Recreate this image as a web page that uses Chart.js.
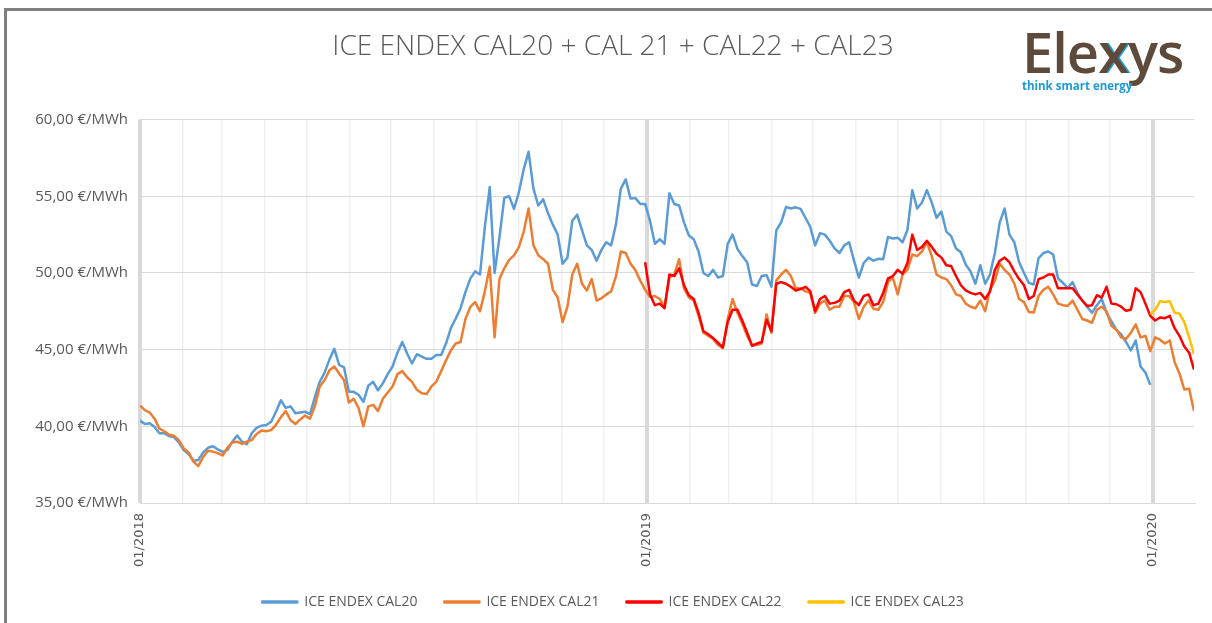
<!DOCTYPE html>
<html>
<head>
<meta charset="utf-8">
<title>ICE ENDEX CAL20 + CAL 21 + CAL22 + CAL23</title>
<script src="https://cdn.jsdelivr.net/npm/chart.js@4.4.1/dist/chart.umd.min.js"></script>
<style>
  html, body { margin: 0; padding: 0; background: #fff; }
  body { width: 1212px; height: 623px; position: relative; overflow: hidden; font-family: "Open Sans", sans-serif; }
  #frame { position: absolute; left: 4px; top: 8px; right: -10px; bottom: -10px; border-left: 3px solid #808080; border-top: 3px solid #808080; }
  #chart { position: absolute; left: 0; top: 0; }
  #logo { position: absolute; left: 1022px; top: 23px; line-height: 1; }
  #logo .name { font-size: 56px; color: #5e4a3a; font-weight: 600; letter-spacing: -1px; }
  #logo .name .x { color: #5e4a3a; text-shadow: 2px 0 0 #1e9ad6; }
  #logo .tag { margin-top: 1px; font-size: 11.5px; font-weight: 700; color: #1e9ad6; }
</style>
</head>
<body>
<div id="frame"></div>
<canvas id="chart" width="1212" height="623"></canvas>
<div id="logo"><div class="name">Ele<span class="x">x</span>ys</div><div class="tag">think smart energy</div></div>
<script>
// one quote every half week, counted in days from 01/01/2018
const dayStep = 3.5;

const seriesNames = ["ICE ENDEX CAL20", "ICE ENDEX CAL21", "ICE ENDEX CAL22", "ICE ENDEX CAL23"];
const seriesColors = ["#5b9bd5", "#ed7d31", "#ff0000", "#ffc000"];

// index of the first quote of each product
const cal20Start = 0;
const cal21Start = 0;
const cal22Start = 104;
const cal23Start = 208;

const cal20 = [
  40.37, 40.15, 40.2, 39.95, 39.55, 39.55, 39.35, 39.3, 38.95, 38.45,
  38.2, 37.75, 37.8, 38.3, 38.6, 38.7, 38.5, 38.33, 38.45, 39.0,
  39.4, 39.0, 38.83, 39.55, 39.9, 40.04, 40.08, 40.3, 40.95, 41.7,
  41.2, 41.3, 40.85, 40.9, 40.95, 40.8, 41.9, 42.9, 43.5, 44.35,
  45.05, 44.0, 43.85, 42.25, 42.25, 42.06, 41.6, 42.65, 42.9, 42.35,
  42.8, 43.4, 43.9, 44.8, 45.5, 44.75, 44.1, 44.7, 44.55, 44.4,
  44.4, 44.65, 44.65, 45.4, 46.4, 47.03, 47.7, 48.75, 49.63, 50.1,
  49.9, 53.0, 55.6, 50.0, 52.3, 54.9, 55.0, 54.18, 55.26, 56.77,
  57.9, 55.5, 54.4, 54.8, 53.9, 53.15, 52.5, 50.6, 51.0, 53.4,
  53.8, 52.8, 51.8, 51.5, 50.8, 51.5, 52.0, 51.8, 53.2, 55.5,
  56.1, 54.85, 54.88, 54.5, 54.5, 53.4, 51.9, 52.2, 51.9, 55.2,
  54.5, 54.4, 53.3, 52.44, 52.2, 51.4, 50.0, 49.8, 50.2, 49.7,
  49.8, 51.9, 52.5, 51.57, 51.1, 50.7, 49.25, 49.15, 49.8, 49.85,
  49.1, 52.77, 53.3, 54.3, 54.2, 54.28, 54.18, 53.6, 53.0, 51.8,
  52.6, 52.5, 52.1, 51.6, 51.3, 51.8, 52.0, 50.8, 49.7, 50.65,
  51.0, 50.8, 50.92, 50.9, 52.35, 52.25, 52.3, 52.0, 52.8, 55.4,
  54.2, 54.6, 55.4, 54.6, 53.6, 54.0, 52.7, 52.4, 51.6, 51.35,
  50.55, 50.1, 49.3, 50.5, 49.3, 49.9, 51.3, 53.3, 54.2, 52.5,
  52.0, 50.7, 50.0, 49.35, 49.25, 50.97, 51.3, 51.4, 51.2, 49.65,
  49.36, 49.03, 49.4, 48.7, 48.2, 47.8, 47.4, 47.9, 48.3, 47.4,
  46.85, 46.3, 46.0, 45.5, 44.95, 45.6, 43.9, 43.5, 42.7
];

const cal21 = [
  41.35, 41.05, 40.9, 40.5, 39.85, 39.68, 39.45, 39.38, 39.1, 38.55,
  38.3, 37.7, 37.4, 38.0, 38.4, 38.35, 38.25, 38.1, 38.6, 38.95,
  39.0, 38.85, 39.0, 39.1, 39.5, 39.72, 39.68, 39.75, 40.1, 40.6,
  41.0, 40.4, 40.15, 40.45, 40.7, 40.5, 41.3, 42.6, 43.0, 43.65,
  43.9, 43.45, 43.0, 41.55, 41.8, 41.19, 40.0, 41.3, 41.4, 41.0,
  41.8, 42.2, 42.6, 43.4, 43.6, 43.2, 42.9, 42.38, 42.16, 42.1,
  42.6, 42.9, 43.6, 44.3, 44.95, 45.4, 45.5, 47.0, 47.79, 48.1,
  47.5, 48.8, 50.4, 45.8, 49.6, 50.3, 50.85, 51.15, 51.69, 52.7,
  54.2, 51.8, 51.15, 50.9, 50.6, 48.9, 48.4, 46.8, 47.8, 49.9,
  50.6, 49.3, 48.85, 49.6, 48.2, 48.35, 48.6, 48.8, 49.8, 51.4,
  51.3, 50.6, 50.17, 49.5, 48.9, 48.44, 48.5, 48.3, 47.8, 49.7,
  49.9, 50.9, 49.0, 48.4, 48.2, 47.2, 46.1, 45.9, 45.7, 45.3,
  45.1, 47.0, 48.3, 47.4, 46.7, 45.9, 45.3, 45.3, 45.4, 47.3,
  46.1, 49.5, 49.9, 50.2, 49.8, 49.0, 49.0, 48.8, 48.7, 47.4,
  48.0, 48.2, 47.6, 47.8, 47.8, 48.5, 48.5, 48.1, 47.0, 47.8,
  48.2, 47.67, 47.6, 48.1, 49.4, 49.7, 48.6, 49.9, 50.2, 51.2,
  51.1, 51.4, 52.0, 51.1, 49.9, 49.7, 49.6, 49.2, 48.6, 48.5,
  48.0, 47.8, 47.7, 48.2, 47.5, 48.9, 49.5, 50.6, 50.2, 49.9,
  49.3, 48.3, 48.1, 47.45, 47.42, 48.5, 48.9, 49.1, 48.6, 48.0,
  47.9, 47.85, 48.2, 47.6, 47.0, 46.9, 46.75, 47.6, 47.8, 47.5,
  46.55, 46.3, 45.8, 45.7, 46.1, 46.65, 45.8, 45.9, 44.9, 45.8,
  45.65, 45.4, 45.6, 44.2, 43.45, 42.4, 42.45, 41.0
];

const cal22 = [
  50.7, 48.6, 47.9, 48.0, 47.7, 49.9, 49.8, 50.3, 49.2, 48.55,
  48.3, 47.4, 46.2, 46.0, 45.75, 45.45, 45.15, 46.8, 47.6, 47.6,
  46.9, 46.1, 45.25, 45.4, 45.5, 46.95, 46.2, 49.3, 49.4, 49.3,
  49.1, 48.86, 48.95, 49.1, 48.8, 47.5, 48.3, 48.5, 48.0, 48.05,
  48.2, 48.75, 48.9, 48.2, 47.9, 48.5, 48.6, 47.9, 47.99, 48.7,
  49.65, 49.8, 50.2, 49.95, 50.65, 52.5, 51.5, 51.7, 52.1, 51.7,
  51.25, 51.0, 50.5, 50.45, 49.8, 49.2, 48.86, 48.7, 48.6, 48.7,
  48.3, 48.8, 50.2, 50.8, 51.0, 50.7, 50.1, 49.6, 49.2, 48.3,
  48.5, 49.6, 49.7, 49.9, 49.9, 49.0, 49.0, 49.0, 49.0, 48.6,
  48.2, 47.85, 47.9, 48.55, 48.4, 49.1, 48.0, 47.96, 47.8, 47.53,
  47.6, 49.0, 48.75, 48.0, 47.2, 46.9, 47.1, 47.05, 47.2, 46.4,
  45.9, 45.2, 44.8, 43.7
];

const cal23 = [47.3, 47.6, 48.15, 48.1, 48.15, 47.4, 47.35, 46.8, 45.8, 44.7];

const yearLabels = { 0: "01/2018", 365: "01/2019", 730: "01/2020" };

// first day of every month on the axis, in days from 01/01/2018
const monthStarts = [];
for (let m = 0; m <= 24; m++) {
  monthStarts.push((Date.UTC(2018, m, 1) - Date.UTC(2018, 0, 1)) / 864e5);
}

function toPoints(values, start) {
  return values.map((v, i) => ({ x: (start + i) * dayStep, y: v }));
}

function isYear(value) {
  return yearLabels[value] !== undefined;
}

const allSeries = [
  toPoints(cal20, cal20Start),
  toPoints(cal21, cal21Start),
  toPoints(cal22, cal22Start),
  toPoints(cal23, cal23Start),
];

const lastDay = (cal21Start + cal21.length - 1) * dayStep;

const datasets = allSeries.map((points, i) => ({
  label: seriesNames[i],
  data: points,
  borderColor: seriesColors[i],
  backgroundColor: seriesColors[i],
  borderWidth: 2.5,
  pointRadius: 0,
  tension: 0,
  borderJoinStyle: "round",
  // later products are drawn on top
  order: allSeries.length - i,
}));

const textColor = "#595959";

const config = {
  type: "line",
  data: { datasets: datasets },
  options: {
    responsive: false,
    animation: false,
    layout: { padding: { left: 14, right: 0, top: 10, bottom: 4 } },
    plugins: {
      title: {
        display: true,
        text: "ICE ENDEX CAL20 + CAL 21 + CAL22 + CAL23",
        color: textColor,
        font: { family: "Open Sans", size: 28, weight: "300" },
        padding: { top: 20, bottom: 56 },
      },
      legend: {
        position: "bottom",
        labels: {
          boxWidth: 35,
          boxHeight: 1,
          padding: 27,
          color: textColor,
          font: { family: "Open Sans", size: 14 },
          sort: (a, b) => a.datasetIndex - b.datasetIndex,
        },
      },
      tooltip: { enabled: false },
    },
    scales: {
      x: {
        type: "linear",
        min: 0,
        max: lastDay,
        afterBuildTicks: (scale) => {
          scale.ticks = monthStarts.map((v) => ({ value: v }));
        },
        afterFit: (scale) => {
          scale.height = 65;
        },
        ticks: {
          autoSkip: false,
          minRotation: 90,
          maxRotation: 90,
          padding: 10,
          color: textColor,
          font: { family: "DejaVu Sans", size: 13 },
          callback: (value) => yearLabels[value] || "",
        },
        grid: {
          drawTicks: false,
          color: (ctx) => (ctx.tick && isYear(ctx.tick.value) ? "#d9d9d9" : "#f0f0f0"),
          lineWidth: (ctx) => (ctx.tick && isYear(ctx.tick.value) ? 4 : 1.5),
        },
        border: { display: true, color: "#d9d9d9", width: 1 },
      },
      y: {
        min: 35,
        max: 60,
        afterFit: (scale) => {
          scale.width = 126;
        },
        ticks: {
          stepSize: 5,
          padding: 12,
          color: textColor,
          font: { family: "Open Sans", size: 15 },
          callback: (value) => value.toFixed(2).replace(".", ",") + " €/MWh",
        },
        grid: { drawTicks: false, color: "#d9d9d9", lineWidth: 1 },
        border: { display: false },
      },
      // empty margin on the right of the plot
      yRight: {
        position: "right",
        min: 35,
        max: 60,
        afterFit: (scale) => {
          scale.width = 18;
        },
        ticks: { display: false },
        grid: { display: false },
        border: { display: false },
      },
    },
  },
};

const myChart = new Chart(document.getElementById("chart"), config);
</script>
</body>
</html>
